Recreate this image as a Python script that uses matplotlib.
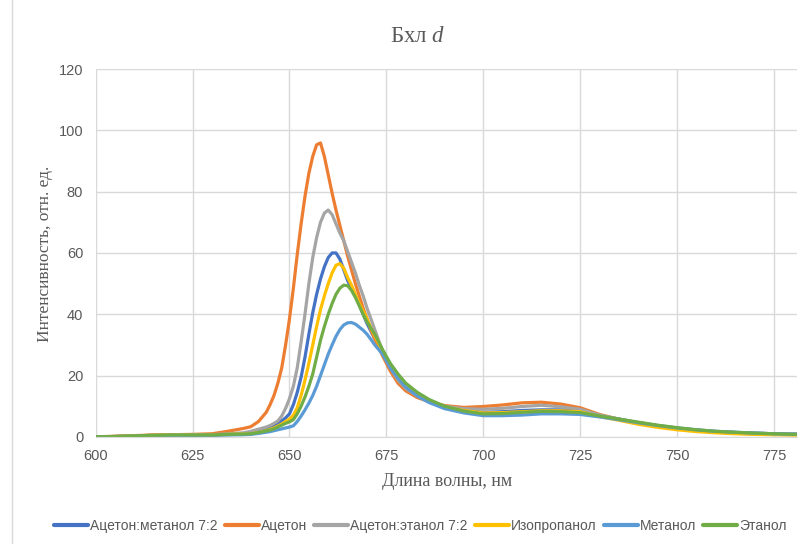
import matplotlib
matplotlib.use("Agg")
import matplotlib.pyplot as plt
from matplotlib.lines import Line2D

plt.rcParams['font.family'] = ['Liberation Sans', 'DejaVu Sans']
plt.rcParams['mathtext.fontset'] = 'custom'
plt.rcParams['mathtext.it'] = 'Liberation Serif:italic'
plt.rcParams['mathtext.rm'] = 'Liberation Serif'

# длины волн, нм
wl = [600, 605, 610, 615, 620, 625, 630, 634, 638, 640, 642, 644,
      645, 646, 647, 648, 649, 650, 651, 652, 653, 654, 655, 656, 657, 658,
      659, 660, 661, 662, 663, 664, 665, 666, 667, 668, 669, 670, 671, 672,
      674, 676, 678, 680, 683, 686, 690, 695, 700, 705, 710, 715, 720, 725,
      730, 735, 740, 745, 750, 755, 760, 765, 770, 775, 781]

aceton_methanol = [0, 0.1, 0.3, 0.5, 0.6, 0.6, 0.6, 0.9, 1.0, 1.2, 1.7, 2.3,
                   2.8, 3.4, 4.3, 5.2, 6.2, 7.5, 10.5, 14.5, 19.5, 26, 33.5, 40.5, 46.5, 51.5,
                   55.5, 58.5, 60, 60, 58, 54.5, 51, 48.5, 46, 43, 40, 37, 34.5, 32,
                   27.5, 22.5, 18.5, 16, 13.5, 11.6, 9.8, 8.6, 8.0, 8.2, 8.6, 8.8, 8.8, 8.5,
                   7.0, 5.8, 4.6, 3.6, 2.8, 2.2, 1.7, 1.4, 1.2, 1.0, 0.9]
aceton = [0, 0.2, 0.4, 0.6, 0.7, 0.8, 1.0, 1.8, 2.7, 3.3, 5.0, 8.0,
          10.5, 13.5, 17.5, 22.5, 30, 38.5, 48.5, 59.5, 69.5, 78.5, 86, 91.5, 95.3, 95.9,
          91.5, 85.5, 79.5, 74, 69, 64, 59, 54.5, 50, 46, 42, 38.5, 35, 32,
          26.5, 21.5, 17.5, 15, 12.8, 11.5, 10.2, 9.6, 9.9, 10.4, 11.1, 11.3, 10.7, 9.5,
          7.3, 5.7, 4.5, 3.5, 2.6, 2.0, 1.5, 1.2, 1.0, 0.8, 0.7]
aceton_ethanol = [0, 0.1, 0.3, 0.5, 0.6, 0.6, 0.7, 1.0, 1.3, 1.8, 2.5, 3.2,
                  3.7, 4.4, 5.2, 6.8, 9.3, 12.5, 16.5, 22.5, 31, 40, 50, 58.5, 65, 70,
                  73, 74, 72.5, 69.5, 66.5, 64, 60.5, 57, 53.5, 49.5, 46, 42, 38.5, 35,
                  28, 22.5, 18.5, 15.8, 13.3, 11.6, 10, 9.2, 9.0, 9.3, 9.9, 10.3, 9.8, 9.0,
                  7.1, 5.8, 4.6, 3.6, 2.8, 2.1, 1.7, 1.4, 1.2, 1.0, 0.9]
isopropanol = [0, 0.1, 0.3, 0.5, 0.6, 0.6, 0.6, 0.8, 0.9, 1.0, 1.4, 2.0,
               2.4, 2.9, 3.5, 4.2, 5.0, 5.8, 7.0, 9.5, 13.5, 18.5, 24, 30, 36, 41.5,
               46, 50, 53.5, 56, 56.5, 55, 52, 49.5, 46.5, 43.5, 41, 38.5, 35.5, 33,
               28, 23, 19, 16.3, 13.5, 11.6, 9.8, 8.6, 7.8, 7.9, 8.2, 8.5, 8.5, 8.2,
               6.6, 5.4, 4.1, 3.1, 2.3, 1.7, 1.3, 1.0, 0.8, 0.7, 0.6]
methanol = [0, 0.1, 0.2, 0.4, 0.5, 0.5, 0.5, 0.6, 0.7, 0.8, 1.1, 1.5,
            1.7, 2.0, 2.3, 2.6, 2.9, 3.2, 3.6, 5.0, 6.8, 8.8, 11, 13.5, 16.5, 20,
            23.5, 27, 30, 32.8, 35, 36.5, 37.2, 37.3, 36.8, 35.8, 34.8, 33.5, 31.8, 30,
            27, 22.5, 19, 16.2, 13.3, 11.2, 9.2, 7.8, 6.9, 6.9, 7.1, 7.5, 7.5, 7.3,
            6.5, 5.6, 4.6, 3.7, 2.9, 2.3, 1.8, 1.5, 1.2, 1.0, 0.8]
ethanol = [0, 0.1, 0.3, 0.5, 0.6, 0.6, 0.6, 0.8, 0.9, 1.0, 1.4, 1.9,
           2.2, 2.6, 3.2, 3.8, 4.4, 4.9, 5.6, 7.5, 10, 13, 16.5, 20.5, 26, 31.5,
           36, 40, 43.5, 46.5, 48.5, 49.5, 49.3, 47.8, 45.5, 42.8, 40, 37.5, 35.5, 33.5,
           28.5, 24, 20.5, 17.5, 14.5, 12.2, 10, 8.4, 7.5, 7.6, 8.0, 8.3, 8.2, 7.9,
           6.8, 5.8, 4.8, 3.8, 3.0, 2.3, 1.8, 1.5, 1.2, 1.0, 0.8]

series = [
    ("Ацетон:метанол 7:2", aceton_methanol, "#4472C4"),
    ("Ацетон", aceton, "#ED7D31"),
    ("Ацетон:этанол 7:2", aceton_ethanol, "#A5A5A5"),
    ("Изопропанол", isopropanol, "#FFC000"),
    ("Метанол", methanol, "#5B9BD5"),
    ("Этанол", ethanol, "#70AD47"),
]

txt = "#595959"
grid = "#D9D9D9"

fig = plt.figure(figsize=(8.11, 5.44), dpi=100)
ax = fig.add_axes([0.118, 0.197, 0.865, 0.676])

for name, y, c in series:
    ax.plot(wl, y, color=c, lw=2.3, label=name,
            solid_capstyle='round', solid_joinstyle='round')

ax.set_xlim(600, 781)
ax.set_ylim(0, 120)
ax.set_xticks(range(600, 776, 25))
ax.set_yticks(range(0, 121, 20))
ax.grid(True, color=grid, lw=1)
ax.set_axisbelow(True)
for s in ['top', 'right', 'left']:
    ax.spines[s].set_visible(False)
ax.spines['bottom'].set_color(grid)
ax.tick_params(length=0, labelsize=10.5, labelcolor=txt, pad=9)

fig.text(0.515, 0.932, r"Бхл $d$", ha='center', va='center', fontsize=16.5,
         color=txt, family='Liberation Serif')
fig.text(0.551, 0.115, "Длина волны, нм", ha='center', va='center',
         fontsize=13, color=txt, family='Liberation Serif')
fig.text(0.0555, 0.533, "Интенсивность, отн. ед.", ha='center', va='center',
         rotation=90, fontsize=12.5, color=txt, family='Liberation Serif')

# рамка области диаграммы слева
fig.add_artist(Line2D([0.015, 0.015], [0, 1], color=grid, lw=1))

leg = fig.legend(loc='center', bbox_to_anchor=(0.5185, 0.034), ncol=6,
                 frameon=False, fontsize=10, handlelength=2.45,
                 handletextpad=0.15, columnspacing=0.5, borderpad=0)
for t in leg.get_texts():
    t.set_color(txt)
for h in leg.get_lines():
    h.set_linewidth(3)

fig.savefig("out.png", dpi=100)
